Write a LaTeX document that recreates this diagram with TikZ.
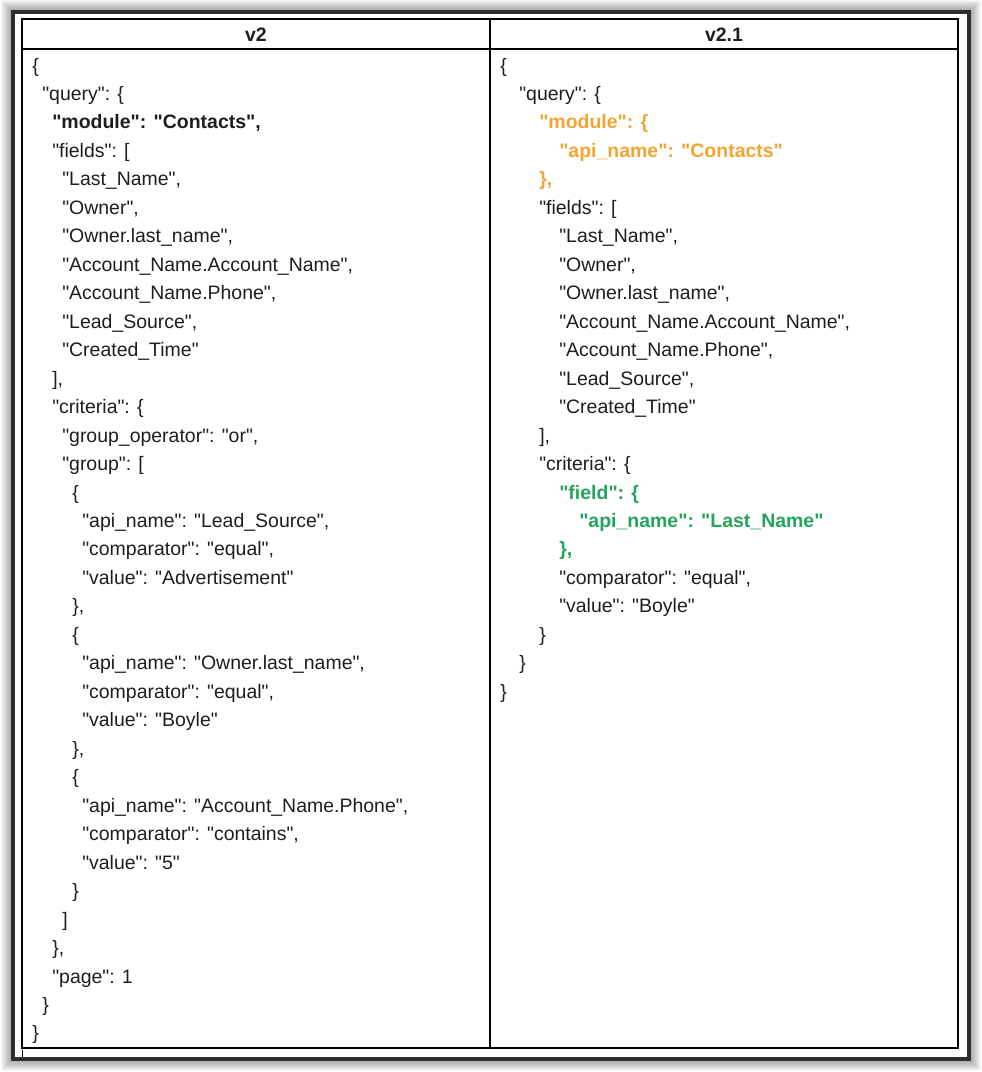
\documentclass[tikz,border=0pt]{standalone}
\usepackage{fontspec}
\setmainfont{Liberation Sans}[Ligatures=TeXOff]
\definecolor{orng}{HTML}{F2A531}
\definecolor{grn}{HTML}{25A55C}
\definecolor{framecol}{HTML}{2E2E2E}
\definecolor{txt}{HTML}{1E1E1E}
\tikzset{
  code/.style={anchor=base west, inner sep=0pt, text=txt, font=\fontsize{14.6}{17}\selectfont},
  codeb/.style={code, font=\fontsize{14.6}{17}\selectfont\bfseries},
  codeo/.style={codeb, text=orng},
  codeg/.style={codeb, text=grn},
  hdr/.style={anchor=base, inner sep=0pt, text=txt, font=\fontsize{14.6}{17}\selectfont\bfseries},
  outerframe/.style={draw=framecol, line width=2.4pt, fill=white},
  tableline/.style={draw=black, line width=1pt},
}
\newcommand\codeL[4][code]{\node[#1] (L#3) at (#2,{72+28.47*(#3-1)}) {#4};}
\newcommand\codeR[4][code]{\node[#1] (R#3) at (#2,{72+28.47*(#3-1)}) {#4};}
\begin{document}
\begin{tikzpicture}[x=0.75pt,y=-0.75pt]
\useasboundingbox (0,0) rectangle (982,1072);
% shadow
\foreach \i in {1,...,12}{
  \draw[black, opacity=0.035, line width=\i*1.5pt] (13,12) rectangle (969,1059);
}
\draw[outerframe] (13,12) rectangle (969,1059);
% table
\draw[tableline] (22,19) rectangle (958,1048);
\draw[tableline] (22,49) -- (958,49);
\draw[tableline] (490,19) -- (490,1048);
\draw[black, line width=0.6pt] (22,1050) -- (22,1057);
% headers
\node[hdr] (h1) at (256,41) {v2};
\node[hdr] (h2) at (724,41) {v2.1};
% left column
\codeL{32}{1}{\{}
\codeL{42}{2}{"query": \{}
\codeL[codeb]{52}{3}{"module": "Contacts",}
\codeL{52}{4}{"fields": [}
\codeL{62}{5}{"Last\_Name",}
\codeL{62}{6}{"Owner",}
\codeL{62}{7}{"Owner.last\_name",}
\codeL{62}{8}{"Account\_Name.Account\_Name",}
\codeL{62}{9}{"Account\_Name.Phone",}
\codeL{62}{10}{"Lead\_Source",}
\codeL{62}{11}{"Created\_Time"}
\codeL{52}{12}{],}
\codeL{52}{13}{"criteria": \{}
\codeL{62}{14}{"group\_operator": "or",}
\codeL{62}{15}{"group": [}
\codeL{72}{16}{\{}
\codeL{82}{17}{"api\_name": "Lead\_Source",}
\codeL{82}{18}{"comparator": "equal",}
\codeL{82}{19}{"value": "Advertisement"}
\codeL{72}{20}{\},}
\codeL{72}{21}{\{}
\codeL{82}{22}{"api\_name": "Owner.last\_name",}
\codeL{82}{23}{"comparator": "equal",}
\codeL{82}{24}{"value": "Boyle"}
\codeL{72}{25}{\},}
\codeL{72}{26}{\{}
\codeL{82}{27}{"api\_name": "Account\_Name.Phone",}
\codeL{82}{28}{"comparator": "contains",}
\codeL{82}{29}{"value": "5"}
\codeL{72}{30}{\}}
\codeL{62}{31}{]}
\codeL{52}{32}{\},}
\codeL{52}{33}{"page": 1}
\codeL{42}{34}{\}}
\codeL{32}{35}{\}}
% right column
\codeR{500}{1}{\{}
\codeR{519}{2}{"query": \{}
\codeR[codeo]{539}{3}{"module": \{}
\codeR[codeo]{559}{4}{"api\_name": "Contacts"}
\codeR[codeo]{539}{5}{\},}
\codeR{539}{6}{"fields": [}
\codeR{559}{7}{"Last\_Name",}
\codeR{559}{8}{"Owner",}
\codeR{559}{9}{"Owner.last\_name",}
\codeR{559}{10}{"Account\_Name.Account\_Name",}
\codeR{559}{11}{"Account\_Name.Phone",}
\codeR{559}{12}{"Lead\_Source",}
\codeR{559}{13}{"Created\_Time"}
\codeR{539}{14}{],}
\codeR{539}{15}{"criteria": \{}
\codeR[codeg]{559}{16}{"field": \{}
\codeR[codeg]{579}{17}{"api\_name": "Last\_Name"}
\codeR[codeg]{559}{18}{\},}
\codeR{559}{19}{"comparator": "equal",}
\codeR{559}{20}{"value": "Boyle"}
\codeR{539}{21}{\}}
\codeR{519}{22}{\}}
\codeR{500}{23}{\}}
\end{tikzpicture}
\end{document}
